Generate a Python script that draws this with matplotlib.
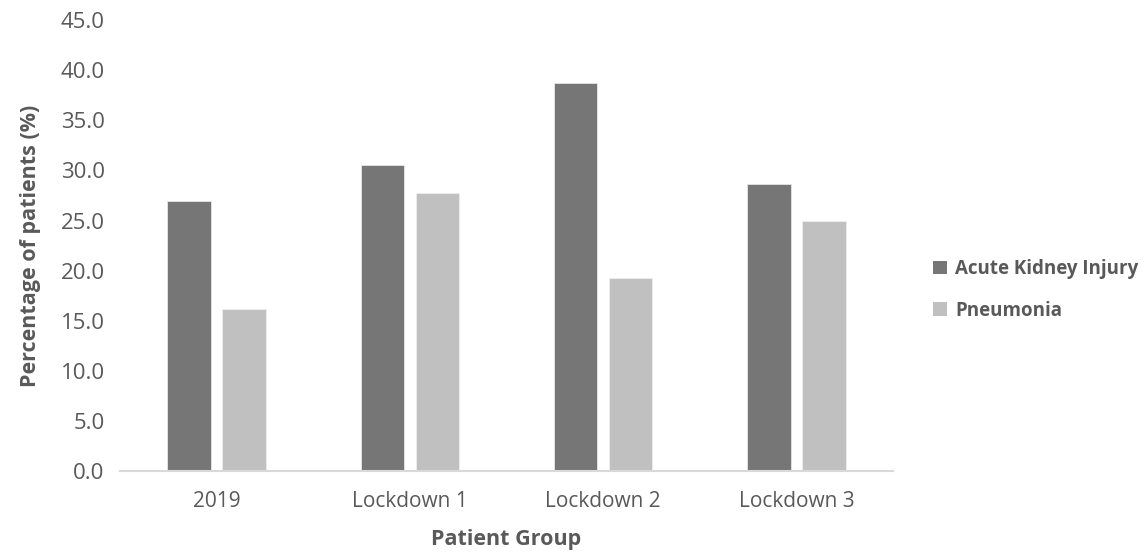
import matplotlib
matplotlib.use("Agg")
import matplotlib.pyplot as plt
import numpy as np
from matplotlib.patches import Patch

plt.rcParams['font.family'] = ['Open Sans', 'DejaVu Sans']

groups = ["2019", "Lockdown 1", "Lockdown 2", "Lockdown 3"]
aki = [27.0, 30.5, 38.7, 28.6]
pneumonia = [16.2, 27.8, 19.3, 25.0]
series_names = ["Acute Kidney Injury", "Pneumonia"]
yticks = [0, 5, 10, 15, 20, 25, 30, 35, 40, 45]

text_color = "#595959"
dark = "#767676"
light = "#c0c0c0"

fig = plt.figure(figsize=(11.48, 5.54), dpi=100)
ax = fig.add_axes([0.1045, 0.149, 0.6735, 0.815])

x = np.arange(len(groups))
width = 0.225
offset = 0.1425
ax.bar(x - offset, aki, width, color=dark, edgecolor="#e6e6e6", linewidth=0.6)
ax.bar(x + offset, pneumonia, width, color=light, edgecolor="#eeeeee", linewidth=0.6)

ax.set_xlim(-0.5, len(groups) - 0.5)
ax.set_ylim(0, 45)
ax.set_yticks(yticks)
ax.set_yticklabels([f"{v:.1f}" for v in yticks])
ax.set_xticks(x)
ax.set_xticklabels(groups)

for side in ("top", "right", "left"):
    ax.spines[side].set_visible(False)
ax.spines["bottom"].set_color("#d9d9d9")
ax.spines["bottom"].set_linewidth(1.5)

ax.tick_params(axis="y", length=0, pad=11, labelsize=16, labelcolor=text_color)
ax.tick_params(axis="x", length=0, pad=14, labelsize=15, labelcolor=text_color)

ax.set_ylabel("Percentage of patients (%)", fontsize=15.5, fontweight="bold",
              color=text_color, labelpad=14)
ax.set_xlabel("Patient Group", fontsize=15.5, fontweight="bold",
              color=text_color, labelpad=12)

handles = [Patch(facecolor=dark, edgecolor="none"), Patch(facecolor=light, edgecolor="none")]
leg = fig.legend(handles, series_names, loc="center left", bbox_to_anchor=(0.798, 0.477),
                 frameon=False, handlelength=0.75, handleheight=0.75, handletextpad=0.45,
                 labelspacing=1.15, prop={"size": 13.5, "weight": "bold"})
for t in leg.get_texts():
    t.set_color(text_color)

fig.savefig("out.png", dpi=100, facecolor="white")
